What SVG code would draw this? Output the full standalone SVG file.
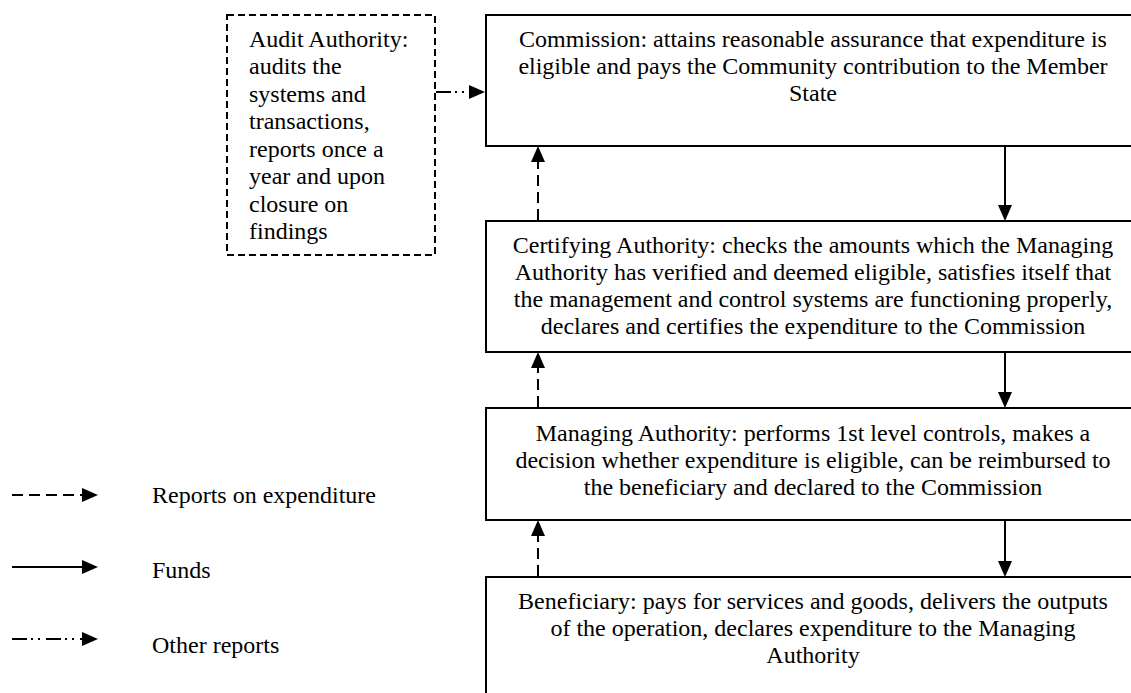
<svg xmlns="http://www.w3.org/2000/svg" width="1131" height="693" viewBox="0 0 1131 693">
  <style>
    text { font-family: "Liberation Serif", "Times New Roman", serif; font-size: 24px; fill: #000; }
    .c { text-anchor: middle; }
    .box { fill: #fff; stroke: #000; stroke-width: 2; }
    .dbox { fill: #fff; stroke: #000; stroke-width: 2; stroke-dasharray: 7 4; }
    .solid { stroke: #000; stroke-width: 2; fill: none; }
    .dash { stroke: #000; stroke-width: 2; fill: none; stroke-dasharray: 11 6; }
    .dashdot { stroke: #000; stroke-width: 2; fill: none; stroke-dasharray: 15 4 2 5 2 6; }
  </style>
  <defs>
    <marker id="head" markerUnits="userSpaceOnUse" markerWidth="16" markerHeight="14" refX="0" refY="7" orient="auto">
      <path d="M0,0 L16,7 L0,14 z" fill="#000"/>
    </marker>
  </defs>

  <rect width="1131" height="693" fill="#fff"/>

  <g id="audit-authority">
    <rect class="dbox" x="227" y="15" width="208" height="240"/>
    <text x="249" y="47">Audit Authority:</text>
    <text x="249" y="74">audits the</text>
    <text x="249" y="101.5">systems and</text>
    <text x="249" y="129">transactions,</text>
    <text x="249" y="156.5">reports once a</text>
    <text x="249" y="184">year and upon</text>
    <text x="249" y="211.5">closure on</text>
    <text x="249" y="239">findings</text>
  </g>

  <g id="commission">
    <rect class="box" x="486" y="15" width="660" height="131"/>
    <text class="c" x="813" y="47">Commission: attains reasonable assurance that expenditure is</text>
    <text class="c" x="813" y="74">eligible and pays the Community contribution to the Member</text>
    <text class="c" x="813" y="101">State</text>
  </g>

  <g id="certifying-authority">
    <rect class="box" x="486" y="221" width="660" height="131"/>
    <text class="c" x="813" y="253">Certifying Authority: checks the amounts which the Managing</text>
    <text class="c" x="813" y="280">Authority has verified and deemed eligible, satisfies itself that</text>
    <text class="c" x="813" y="307">the management and control systems are functioning properly,</text>
    <text class="c" x="813" y="334">declares and certifies the expenditure to the Commission</text>
  </g>

  <g id="managing-authority">
    <rect class="box" x="486" y="408" width="660" height="112"/>
    <text class="c" x="813" y="441">Managing Authority: performs 1st level controls, makes a</text>
    <text class="c" x="813" y="468">decision whether expenditure is eligible, can be reimbursed to</text>
    <text class="c" x="813" y="495">the beneficiary and declared to the Commission</text>
  </g>

  <g id="beneficiary">
    <rect class="box" x="486" y="577" width="660" height="130"/>
    <text class="c" x="813" y="609">Beneficiary: pays for services and goods, delivers the outputs</text>
    <text class="c" x="813" y="636">of the operation, declares expenditure to the Managing</text>
    <text class="c" x="813" y="663">Authority</text>
  </g>

  <g id="connectors">
    <!-- funds flowing down -->
    <line class="solid" x1="1005" y1="147" x2="1005" y2="205" marker-end="url(#head)"/>
    <line class="solid" x1="1005" y1="353" x2="1005" y2="392" marker-end="url(#head)"/>
    <line class="solid" x1="1005" y1="521" x2="1005" y2="561" marker-end="url(#head)"/>
    <!-- reports on expenditure going up -->
    <line class="dash" x1="538" y1="220" x2="538" y2="162" marker-end="url(#head)"/>
    <line class="dash" x1="538" y1="407" x2="538" y2="368" marker-end="url(#head)"/>
    <line class="dash" x1="538" y1="576" x2="538" y2="536" marker-end="url(#head)"/>
    <!-- audit reports to the Commission -->
    <line class="dashdot" x1="436" y1="92" x2="469" y2="92" marker-end="url(#head)"/>
  </g>

  <g id="legend">
    <line class="dash" x1="12" y1="495" x2="82" y2="495" marker-end="url(#head)"/>
    <text x="152" y="503">Reports on expenditure</text>
    <line class="solid" x1="12" y1="567" x2="82" y2="567" marker-end="url(#head)"/>
    <text x="152" y="578">Funds</text>
    <line class="dashdot" x1="12" y1="639" x2="82" y2="639" marker-end="url(#head)"/>
    <text x="152" y="653">Other reports</text>
  </g>
</svg>
